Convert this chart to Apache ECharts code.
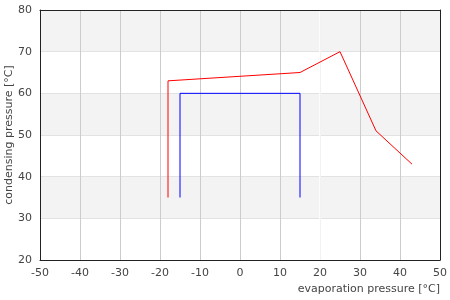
<!DOCTYPE html>
<html><head><meta charset="utf-8">
<script src="https://cdn.jsdelivr.net/npm/echarts@6/dist/echarts.min.js"></script>
<style>html,body{margin:0;padding:0;background:#fff}#c{width:450px;height:300px}</style>
</head><body><div id="c"></div>
<script>
const redX = [-18, -18, 15, 25, 34, 43];
const redY = [35, 63, 65, 70, 51, 43];
const blueX = [-15, -15, 15, 15];
const blueY = [35, 60, 60, 35];
const xName = 'evaporation pressure [°C]';
const yName = 'condensing pressure [°C]';

const font = 'DejaVu Sans';
const border = {show: true, onZero: false, lineStyle: {color: '#222', width: 1}};
const chart = echarts.init(document.getElementById('c'), null, {renderer: 'canvas'});
chart.setOption({
  animation: false,
  grid: {left: 40, right: 10, top: 10, bottom: 40, containLabel: false, outerBoundsMode: 'none'},
  xAxis: [{
    type: 'value', min: -50, max: 50, interval: 10, position: 'bottom',
    name: xName, nameLocation: 'end', nameGap: 0, nameMoveOverlap: false,
    nameTextStyle: {fontFamily: font, fontSize: 11, color: '#444', align: 'right', verticalAlign: 'top', padding: [24, 0, 0, 0]},
    axisLine: border, axisTick: {show: false},
    axisLabel: {fontFamily: font, fontSize: 11, color: '#444', margin: 8},
    splitLine: {show: true, lineStyle: {color: '#cccccc', width: 1}}
  }, {
    type: 'value', min: -50, max: 50, interval: 10, position: 'top',
    axisLine: border, axisTick: {show: false}, axisLabel: {show: false}, splitLine: {show: false}, z: 5
  }],
  yAxis: [{
    type: 'value', min: 20, max: 80, interval: 10, position: 'left',
    name: yName, nameLocation: 'middle', nameGap: 25, nameMoveOverlap: false,
    nameTextStyle: {fontFamily: font, fontSize: 11, color: '#444'},
    axisLine: border, axisTick: {show: false},
    axisLabel: {fontFamily: font, fontSize: 11, color: '#444', margin: 8},
    splitLine: {show: true, lineStyle: {color: '#e2e2e2', width: 1}},
    splitArea: {show: true, areaStyle: {color: ['#ffffff', '#f3f3f3']}}
  }, {
    type: 'value', min: 20, max: 80, interval: 10, position: 'right',
    axisLine: border, axisTick: {show: false}, axisLabel: {show: false}, splitLine: {show: false}, z: 5
  }],
  series: [
    {type: 'line', xAxisIndex: 0, yAxisIndex: 0, data: redX.map((x, i) => [x, redY[i]]), symbol: 'none', lineStyle: {color: '#ff0000', width: 1}, z: 3,
     markLine: {silent: true, symbol: 'none', label: {show: false}, lineStyle: {color: '#ffffff', width: 1.5, type: 'solid'}, data: [{xAxis: 20}], z: 1}},
    {type: 'line', xAxisIndex: 0, yAxisIndex: 0, data: blueX.map((x, i) => [x, blueY[i]]), symbol: 'none', lineStyle: {color: '#0000ff', width: 1}, z: 3}
  ]
});
</script></body></html>
